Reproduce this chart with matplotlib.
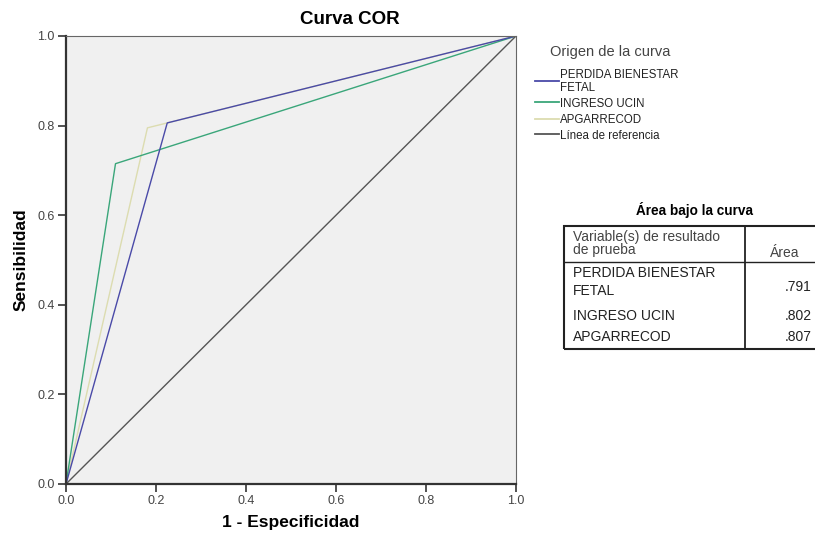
import matplotlib
matplotlib.use("Agg")
import matplotlib.pyplot as plt
from matplotlib.lines import Line2D
from matplotlib.patches import Rectangle

plt.rcParams["font.family"] = ["Liberation Sans", "DejaVu Sans"]

# ROC points (1 - especificidad, sensibilidad)
fetal_x = [0.0, 0.225, 1.0]
fetal_y = [0.0, 0.806, 1.0]
ucin_x = [0.0, 0.11, 1.0]
ucin_y = [0.0, 0.715, 1.0]
apgar_x = [0.0, 0.181, 1.0]
apgar_y = [0.0, 0.795, 1.0]
ref_x = [0.0, 1.0]
ref_y = [0.0, 1.0]

series_names = ["PERDIDA BIENESTAR", "INGRESO UCIN", "APGARRECOD", "Línea de referencia"]
series_colors = ["#4a4aa8", "#3aa67a", "#dcdcb0", "#555555"]

table_vars = ["PERDIDA BIENESTAR", "INGRESO UCIN", "APGARRECOD"]
table_areas = [".791", ".802", ".807"]

W, H = 815, 540


def fx(px):
    return px / W


def fy(py):
    return 1 - py / H


fig = plt.figure(figsize=(8.15, 5.4), dpi=100)
ax = fig.add_axes([fx(66), fy(484), fx(516 - 66), (484 - 36) / H])
ax.set_facecolor("#f0f0f0")

ax.plot(apgar_x, apgar_y, color=series_colors[2], lw=1.0)
ax.plot(ucin_x, ucin_y, color=series_colors[1], lw=1.0)
ax.plot(fetal_x, fetal_y, color=series_colors[0], lw=1.0)
ax.plot(ref_x, ref_y, color=series_colors[3], lw=1.0)

ax.set_xlim(0, 1)
ax.set_ylim(0, 1)
ticks = [0.0, 0.2, 0.4, 0.6, 0.8, 1.0]
ax.set_xticks(ticks)
ax.set_yticks(ticks)
ax.set_xticklabels([f"{t:.1f}" for t in ticks], fontsize=9, color="#444444")
ax.set_yticklabels([f"{t:.1f}" for t in ticks], fontsize=9, color="#444444")
ax.tick_params(direction="out", length=6, width=1.2, color="#333333", pad=2)
for side in ["left", "bottom"]:
    ax.spines[side].set_linewidth(1.6)
    ax.spines[side].set_color("#333333")
for side in ["top", "right"]:
    ax.spines[side].set_linewidth(0.8)
    ax.spines[side].set_color("#666666")

fig.text(fx(291), fy(523), "1 - Especificidad", fontsize=12.5, fontweight="bold", ha="center",
         va="center")
fig.text(fx(21), fy(260), "Sensibilidad", fontsize=12.5, fontweight="bold", ha="center",
         va="center", rotation=90)
fig.text(fx(350), fy(20), "Curva COR", fontsize=13.5, fontweight="bold", ha="center", va="center")

# legend
fig.text(fx(550), fy(52), "Origen de la curva", fontsize=10.5, color="#444444", va="center")
text_y = [75, 104, 120, 136]
line_y = [81, 102, 119, 134]
for name, color, ty, ly in zip(series_names, series_colors, text_y, line_y):
    fig.add_artist(Line2D([fx(535), fx(559)], [fy(ly), fy(ly)], color=color, lw=1.3))
    fig.text(fx(560), fy(ty), name, fontsize=8.3, color="#222222", va="center")
fig.text(fx(560), fy(88), "FETAL", fontsize=8.3, color="#222222", va="center")

# area table
fig.text(fx(694), fy(210), "Área bajo la curva", fontsize=9.8, fontweight="bold", ha="center",
         va="center")
x0, x1, x2 = 564, 745, 830
y0, yh, y1 = 226, 262, 349
fig.add_artist(Rectangle((fx(x0), fy(y1)), fx(x2 - x0), (y1 - y0) / H, fill=False, lw=1.5,
                         edgecolor="#222222"))
fig.add_artist(Line2D([fx(x1), fx(x1)], [fy(y0), fy(y1)], color="#222222", lw=1.3))
fig.add_artist(Line2D([fx(x0), fx(x2)], [fy(yh), fy(yh)], color="#222222", lw=1.0))
fig.text(fx(573), fy(237), "Variable(s) de resultado", fontsize=10, color="#444444", va="center")
fig.text(fx(573), fy(250), "de prueba", fontsize=10, color="#444444", va="center")
fig.text(fx(785), fy(253), "Área", fontsize=10, color="#444444", ha="center", va="center")
row_y = [273, 316, 337]
for name, ry in zip(table_vars, row_y):
    fig.text(fx(573), fy(ry), name, fontsize=10, color="#222222", va="center")
fig.text(fx(573), fy(291), "FETAL", fontsize=10, color="#222222", va="center")
value_y = [287, 316, 337]
for area, vy in zip(table_areas, value_y):
    fig.text(fx(812), fy(vy), area, fontsize=10, color="#222222", ha="right", va="center")

fig.savefig("out.png", dpi=100, facecolor="white")
